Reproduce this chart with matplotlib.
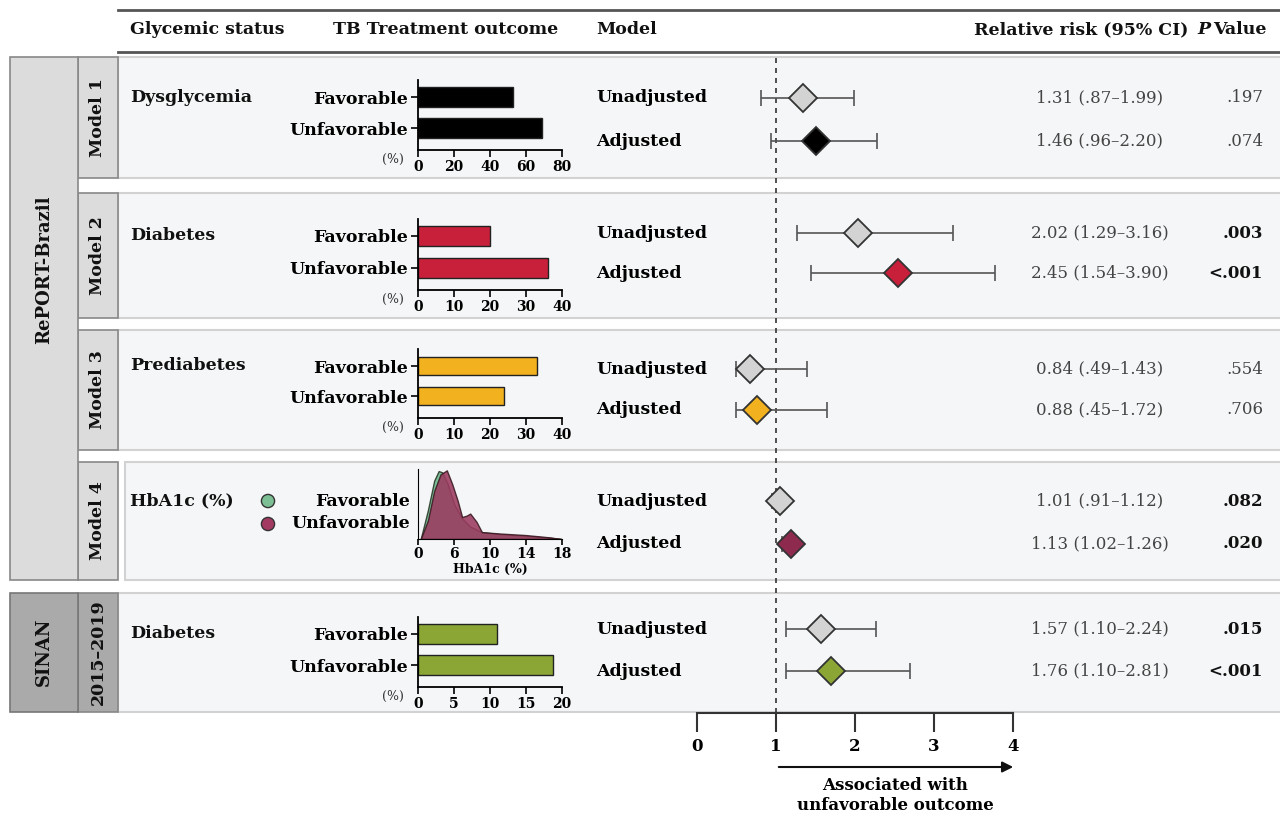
import numpy as np
import matplotlib.pyplot as plt
from matplotlib.patches import Rectangle

plt.rcParams['font.family'] = ['DejaVu Serif']

W, H = 1280, 815

# ---- data ----
groups = ['Dysglycemia', 'Diabetes', 'Prediabetes', 'HbA1c (%)', 'Diabetes']
tags = ['Model 1', 'Model 2', 'Model 3', 'Model 4', '2015–2019']
outcomes = ['Favorable', 'Unfavorable']

bar_pct = [[53, 69], [20, 36], [33, 24], None, [11, 18.7]]
bar_xmax = [80, 40, 40, None, 20]
bar_ticks = [[0, 20, 40, 60, 80], [0, 10, 20, 30, 40], [0, 10, 20, 30, 40], None, [0, 5, 10, 15, 20]]
bar_colors = ['#000000', '#c8203b', '#f2b11e', None, '#8ba635']

# HbA1c density
fav_x = [2.3, 3.1, 3.8, 4.3, 4.7, 5.3, 6.0, 6.9, 7.8, 9.1, 11.1, 14.0, 16.6, 17.9]
fav_d = [0.0, 0.42, 0.85, 0.99, 0.97, 0.80, 0.51, 0.30, 0.18, 0.10, 0.07, 0.045, 0.02, 0.0]
unf_x = [2.3, 3.1, 3.8, 4.5, 5.2, 5.8, 6.4, 6.9, 7.4, 7.8, 8.5, 9.1, 11.1, 14.0, 16.6, 17.9]
unf_d = [0.0, 0.27, 0.70, 0.94, 1.00, 0.80, 0.56, 0.32, 0.34, 0.37, 0.25, 0.10, 0.08, 0.057, 0.024, 0.0]
hba1c_ticks = [2, 6, 10, 14, 18]
hba1c_ticklabels = ['0', '6', '10', '14', '18']

models = ['Unadjusted', 'Adjusted']
rr_est = [[1.34, 1.50], [2.04, 2.54], [0.67, 0.76], [1.05, 1.19], [1.57, 1.69]]
rr_lo = [[0.81, 0.94], [1.27, 1.44], [0.49, 0.49], [0.95, 1.08], [1.13, 1.13]]
rr_hi = [[1.99, 2.28], [3.24, 3.77], [1.39, 1.65], [1.12, 1.26], [2.27, 2.69]]
rr_text = [['1.31 (.87–1.99)', '1.46 (.96–2.20)'],
           ['2.02 (1.29–3.16)', '2.45 (1.54–3.90)'],
           ['0.84 (.49–1.43)', '0.88 (.45–1.72)'],
           ['1.01 (.91–1.12)', '1.13 (1.02–1.26)'],
           ['1.57 (1.10–2.24)', '1.76 (1.10–2.81)']]
p_text = [['.197', '.074'], ['.003', '<.001'], ['.554', '.706'], ['.082', '.020'], ['.015', '<.001']]
p_bold = [[False, False], [True, True], [False, False], [True, True], [True, True]]
adj_colors = ['#000000', '#c8203b', '#f2b11e', '#8e2a4e', '#8ba635']

# ---- layout (pixels) ----
panels = [(57, 178), (193, 318), (330, 450), (462, 580), (593, 712)]
row_y = [(98, 141), (233, 273), (369, 410), (501, 544), (629, 671)]
bar_y = [(97, 128), (236, 268), (366, 396), None, (634, 665)]

fig = plt.figure(figsize=(W / 100, H / 100), dpi=100)
bg = fig.add_axes([0, 0, 1, 1])
bg.set_xlim(0, W)
bg.set_ylim(H, 0)
bg.axis('off')


def px_axes(x0, y0, x1, y1):
    return fig.add_axes([x0 / W, 1 - y1 / H, (x1 - x0) / W, (y1 - y0) / H])


# header
bg.plot([118, W], [10, 10], color='#555555', lw=2)
bg.plot([118, W], [52, 52], color='#555555', lw=2)
hkw = dict(fontsize=12.5, fontweight='bold', va='center', color='#111111')
bg.text(130, 30, 'Glycemic status', ha='left', **hkw)
bg.text(333, 30, 'TB Treatment outcome', ha='left', **hkw)
bg.text(596, 30, 'Model', ha='left', **hkw)
bg.text(1188, 30, 'Relative risk (95% CI)', ha='right', **hkw)
bg.text(1197, 30, 'P', ha='left', fontstyle='italic', **hkw)
bg.text(1213, 30, 'Value', ha='left', **hkw)

# panels and left boxes
for i, (t, b) in enumerate(panels):
    x0 = 125 if i == 3 else 118
    bg.add_patch(Rectangle((x0, t), W - x0 + 5, b - t, fc='#f5f6f7', ec='#d2d2d2', lw=1.5))
    fc = '#aaaaaa' if i == 4 else '#dcdcdc'
    bg.add_patch(Rectangle((78, t), 40, b - t, fc=fc, ec='#888888', lw=1.2))
    bg.text(98, (t + b) / 2, tags[i], rotation=90, ha='center', va='center',
            fontsize=12.5, fontweight='bold', color='#111111')
    bg.text(130, row_y[i][0] if bar_y[i] is None else bar_y[i][0], groups[i],
            ha='left', va='center', fontsize=12.5, fontweight='bold', color='#111111')

bg.add_patch(Rectangle((10, 57), 68, 523, fc='#dcdcdc', ec='#888888', lw=1.2))
bg.text(44, 270, 'RePORT-Brazil', rotation=90, ha='center', va='center',
        fontsize=13, fontweight='bold', color='#111111')
bg.add_patch(Rectangle((10, 593), 68, 119, fc='#aaaaaa', ec='#777777', lw=1.2))
bg.text(44, 652, 'SINAN', rotation=90, ha='center', va='center',
        fontsize=13, fontweight='bold', color='#111111')

# bar charts
for i in range(5):
    if bar_pct[i] is None:
        continue
    fy, uy = bar_y[i]
    d = uy - fy
    ax = px_axes(418, fy - 17, 562, uy + 22)
    ax.barh([0, 1], bar_pct[i], height=0.62, color=bar_colors[i], edgecolor='#222222', lw=1)
    ax.set_xlim(0, bar_xmax[i])
    ax.set_ylim(1 + 22 / d, -17 / d)
    ax.set_yticks([0, 1])
    ax.set_yticklabels(outcomes, fontsize=12.5, fontweight='bold')
    ax.set_xticks(bar_ticks[i])
    ax.set_xticklabels([str(v) for v in bar_ticks[i]], fontsize=10, fontweight='bold')
    ax.tick_params(length=5, width=1.2, pad=2)
    for s in ['top', 'right']:
        ax.spines[s].set_visible(False)
    for s in ['left', 'bottom']:
        ax.spines[s].set_linewidth(1.3)
    ax.patch.set_visible(False)
    bg.text(404, uy + 31, '(%)', ha='right', va='center', fontsize=9, color='#333333')

# HbA1c density
dax = px_axes(418, 469, 562, 539)
dax.fill_between(fav_x, fav_d, color='#6fb88e', alpha=0.9, edgecolor='#2a3a2a', lw=1)
dax.fill_between(unf_x, unf_d, color='#9b3a5e', alpha=0.88, edgecolor='#3a1a22', lw=1)
dax.set_xlim(2, 18)
dax.set_ylim(0, 1.02)
dax.set_xticks(hba1c_ticks)
dax.set_xticklabels(hba1c_ticklabels, fontsize=10, fontweight='bold')
dax.set_yticks([])
dax.set_xlabel('HbA1c (%)', fontsize=9, fontweight='bold', labelpad=1)
dax.tick_params(length=4, width=1.2, pad=2)
for s in ['top', 'right']:
    dax.spines[s].set_visible(False)
dax.patch.set_visible(False)
bg.scatter([268, 268], [501, 524], s=90, c=['#7dbf95', '#a33a62'], edgecolors='#333333', lw=1, zorder=5)
bg.text(410, 501, 'Favorable', ha='right', va='center', fontsize=12.5, fontweight='bold')
bg.text(410, 524, 'Unfavorable', ha='right', va='center', fontsize=12.5, fontweight='bold')

# forest plot
fax = px_axes(697, 57, 1013, 713)
fax.set_xlim(0, 4)
fax.set_ylim(713, 57)
fax.patch.set_visible(False)
fax.axvline(1, color='#333333', lw=1.2, ls=(0, (3, 3)), zorder=1)
for i in range(5):
    for j in range(2):
        y = row_y[i][j]
        est = rr_est[i][j]
        fax.errorbar(est, y, xerr=[[est - rr_lo[i][j]], [rr_hi[i][j] - est]], fmt='none',
                     ecolor='#555555', elinewidth=1.2, capsize=6, capthick=1.2, zorder=2)
        fc = '#d3d3d3' if j == 0 else adj_colors[i]
        fax.plot(est, y, marker='D', ms=14, mfc=fc, mec='#333333', mew=1.3, zorder=3, clip_on=False)
        bg.text(596, y, models[j], ha='left', va='center', fontsize=12.5, fontweight='bold')
        bg.text(1100, y, rr_text[i][j], ha='center', va='center', fontsize=12, color='#444444')
        bg.text(1263, y, p_text[i][j], ha='right', va='center', fontsize=12,
                fontweight='bold' if p_bold[i][j] else 'normal',
                color='#111111' if p_bold[i][j] else '#444444')
for s in ['top', 'right', 'left']:
    fax.spines[s].set_visible(False)
fax.spines['bottom'].set_linewidth(1.5)
fax.spines['bottom'].set_color('#333333')
fax.set_yticks([])
fax.set_xticks([0, 1, 2, 3, 4])
fax.set_xticklabels(['0', '1', '2', '3', '4'], fontsize=12, fontweight='bold')
fax.tick_params(axis='x', length=14, width=1.5, pad=4, color='#333333')

bg.annotate('', xy=(1016, 767), xytext=(776, 767),
            arrowprops=dict(arrowstyle='-|>', color='#111111', lw=1.5, mutation_scale=16))
bg.text(895, 786, 'Associated with', ha='center', va='center', fontsize=12, fontweight='bold')
bg.text(895, 806, 'unfavorable outcome', ha='center', va='center', fontsize=12, fontweight='bold')

fig.savefig('out.png', dpi=100)
